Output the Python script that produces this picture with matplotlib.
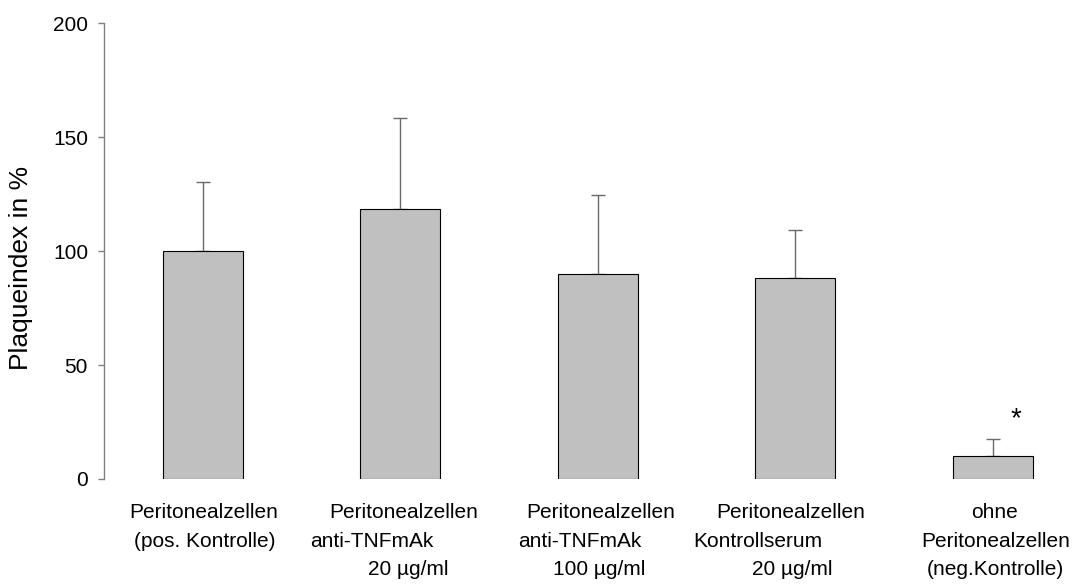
import matplotlib
matplotlib.use('Agg')
from matplotlib import pyplot as plt
from matplotlib import transforms

plt.rcParams['font.family'] = ['Liberation Sans', 'DejaVu Sans']

# values
groups = ['Peritonealzellen (pos. Kontrolle)',
          'Peritonealzellen anti-TNFmAk 20 µg/ml',
          'Peritonealzellen anti-TNFmAk 100 µg/ml',
          'Peritonealzellen Kontrollserum 20 µg/ml',
          'ohne Peritonealzellen (neg.Kontrolle)']
label_lines = [['Peritonealzellen', '(pos. Kontrolle)'],
               ['Peritonealzellen', 'anti-TNFmAk', '20 µg/ml'],
               ['Peritonealzellen', 'anti-TNFmAk', '100 µg/ml'],
               ['Peritonealzellen', 'Kontrollserum', '20 µg/ml'],
               ['ohne', 'Peritonealzellen', '(neg.Kontrolle)']]
means = [100, 118.4, 89.9, 88.0, 10.1]
err_up = [30.3, 40.2, 34.8, 21.2, 7.4]
star_group = 4
yticks = [0, 50, 100, 150, 200]

# layout only: horizontal nudge of each label line (in bar spacings)
line_dx = [[0.005, 0.008],
           [0.015, -0.142, 0.04],
           [0.015, -0.091, 0.008],
           [-0.025, -0.192, -0.015],
           [0.01, 0.015, 0.01]]
line_y = [-0.0856, -0.1486, -0.2107]

fig = plt.figure(figsize=(10.72, 5.85), dpi=100)
ax = fig.add_axes([104 / 1072, 106 / 585, 968 / 1072, 455.7 / 585])

x = list(range(len(means)))
ax.errorbar(x, means, yerr=[[0] * len(means), err_up], fmt='none',
            ecolor='#6a6a6a', elinewidth=1.0, capsize=5, capthick=1.0,
            zorder=1)
ax.bar(x, means, width=0.405, color='#c0c0c0', edgecolor='black',
       linewidth=0.8, zorder=2)

ax.set_xlim(-0.5, 4.4)
ax.set_ylim(0, 200)
ax.set_yticks(yticks)
ax.set_xticks([])
for s in ['top', 'right', 'bottom']:
    ax.spines[s].set_visible(False)
ax.spines['left'].set_color('#808080')
ax.spines['left'].set_linewidth(1.0)
ax.tick_params(axis='y', direction='out', length=4.5, width=1.0,
               color='#808080', labelsize=15, pad=7)

ax.set_ylabel('Plaqueindex in %', fontsize=19)
ax.yaxis.set_label_coords(-0.073, 0.463)

trans = transforms.blended_transform_factory(ax.transData, ax.transAxes)
for i, lines in enumerate(label_lines):
    for j, t in enumerate(lines):
        ax.text(i + line_dx[i][j], line_y[j], t, transform=trans,
                ha='center', va='baseline', fontsize=15, clip_on=False)

ax.text(star_group + 0.115, means[star_group] + err_up[star_group] + 5.8, '*',
        ha='center', va='baseline', fontsize=20)

fig.savefig('out.png', dpi=100)
